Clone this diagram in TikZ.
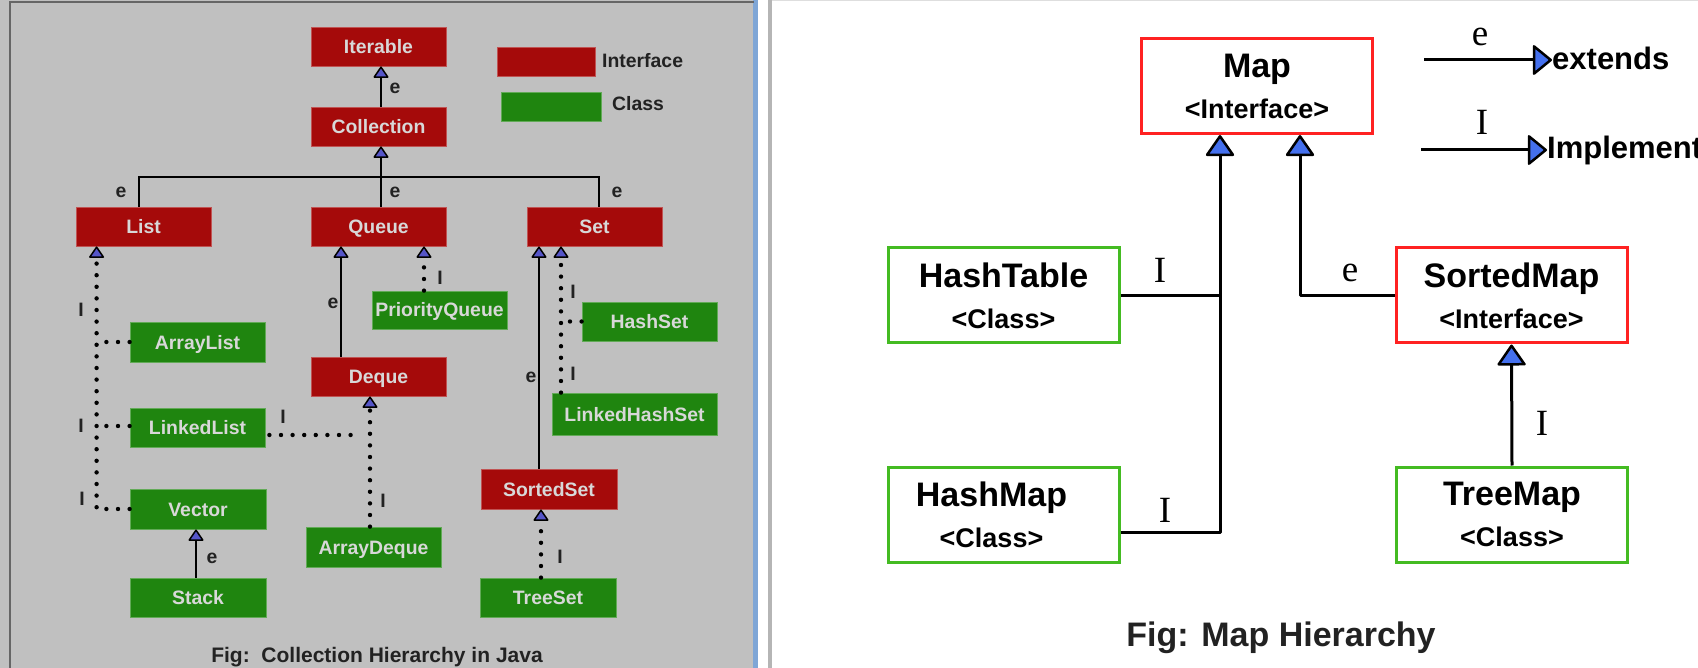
\documentclass[tikz,border=0pt]{standalone}
\usepackage{fontspec}
\setmainfont{Liberation Sans}
\newfontfamily\serifI{Liberation Serif}
\usetikzlibrary{arrows.meta}
\definecolor{panelgray}{HTML}{C0C0C0}
\definecolor{ifred}{HTML}{A50A0A}
\definecolor{clgreen}{HTML}{1F850F}
\definecolor{boxtext}{HTML}{D8D8D8}
\definecolor{arrowL}{HTML}{5555C8}
\definecolor{arrowR}{HTML}{4470EE}
\definecolor{mapred}{HTML}{FF2222}
\definecolor{mapgreen}{HTML}{44BB22}
\definecolor{captext}{HTML}{222222}
\definecolor{edgeblue}{HTML}{7FA6D6}
\definecolor{sepgray}{HTML}{B5B5B5}
\definecolor{framegray}{HTML}{666666}
\tikzset{
  ifbox/.style={fill=ifred, draw=ifred!70!white, line width=0.8pt, minimum width=135pt, minimum height=39pt, inner sep=0pt, text=boxtext, font=\fontsize{19.4}{23}\selectfont\bfseries, text height=14pt, text depth=0pt},
  clbox/.style={ifbox, fill=clgreen, draw=clgreen!70!white},
  lbl/.style={font=\fontsize{19.4}{23}\selectfont\bfseries, text=captext, inner sep=0pt},
  solidL/.style={line width=2pt},
  dotL/.style={line width=4.4pt, dash pattern=on 0pt off 11.6pt, line cap=round},
  tipL/.tip={Triangle[width=16pt, length=12pt, fill=arrowL, line width=1.5pt, round]},
  tipR/.tip={Triangle[width=30pt, length=22pt, fill=arrowR, line width=2.5pt, round]},
  tipRs/.tip={Triangle[width=32pt, length=20pt, fill=arrowR, line width=2.5pt, round]},
  mapbox/.style={draw=mapred, line width=3pt, fill=white, minimum width=231pt, minimum height=95pt, inner sep=0pt, align=center, font=\fontsize{34}{41}\selectfont\bfseries},
  mapcl/.style={mapbox, draw=mapgreen},
  rlbl/.style={font=\serifI\fontsize{37}{40}\selectfont, inner sep=0pt},
  solidR/.style={line width=3pt, line join=round},
  legtext/.style={font=\fontsize{31}{36}\selectfont\bfseries, inner sep=0pt, anchor=west},
}
\begin{document}
\begin{tikzpicture}[x=1pt, y=-1pt]
\useasboundingbox (0,0) rectangle (1698,668);
% backgrounds
\fill[panelgray] (0,0) rectangle (757,668);
\fill[white] (757,0) rectangle (1698,668);
\fill[edgeblue] (753,0) rectangle (758,668);
\fill[sepgray] (768,0) rectangle (772,668);
\fill[black!13] (772,0) rectangle (1698,1.5);
\draw[framegray, line width=2pt] (10,668) -- (10,2) -- (754,2);

% ---------------- left panel ----------------
\node[ifbox] (iterable) at (378.5,46.5) {Iterable};
\node[ifbox] (collection) at (378.5,126.5) {Collection};
\node[ifbox] (list) at (143.5,226.5) {List};
\node[ifbox] (queue) at (378.5,226.5) {Queue};
\node[ifbox] (set) at (594.5,226.5) {Set};
\node[ifbox, minimum width=98pt, minimum height=29pt] (legI) at (546,61.5) {};
\node[clbox, minimum width=100pt, minimum height=29pt] (legC) at (551,106.5) {};
\node[lbl, anchor=west] (legItext) at (602,61) {Interface};
\node[lbl, anchor=west] (legCtext) at (612,104) {Class};

\node[clbox, minimum height=40pt] (arraylist) at (197.5,342) {ArrayList};
\node[clbox] (linkedlist) at (197.5,427.5) {LinkedList};
\node[clbox, minimum width=136pt, minimum height=40pt] (vector) at (198,509) {Vector};
\node[clbox, minimum width=136pt] (stack) at (198,597.5) {Stack};
\node[clbox, minimum height=38pt] (pq) at (439.5,310) {PriorityQueue};
\node[ifbox] (deque) at (378.5,376.5) {Deque};
\node[clbox, minimum height=40pt] (arraydeque) at (373.5,547) {ArrayDeque};
\node[clbox] (hashset) at (649.5,321.5) {HashSet};
\node[clbox, minimum width=165pt, minimum height=42pt] (lhs) at (634.5,414) {LinkedHashSet};
\node[ifbox, minimum width=136pt, minimum height=40pt] (sortedset) at (549,489) {SortedSet};
\node[clbox, minimum width=136pt] (treeset) at (548,597.5) {TreeSet};

% connectors left
\draw[solidL,-tipL] ([xshift=2.5]collection.north) -- ([xshift=2.5]iterable.south);
\coordinate (bus) at (381,177);
\draw[solidL] ([xshift=-4.5]list.north) |- (bus) -| ([xshift=4.5]set.north);
\draw[solidL,-tipL] ([xshift=2.5]queue.north) -- ([xshift=2.5]collection.south);

\coordinate (listx) at ([xshift=21]list.south west);
\draw[dotL,-tipL] (vector.west) -| (listx);
\draw[dotL] (arraylist.west) -- (arraylist.west -| listx);
\draw[dotL] ([yshift=1.5]linkedlist.west) -- ([yshift=1.5]linkedlist.west -| listx);

\draw[solidL,-tipL] ([xshift=-37.5]deque.north) -- ([xshift=-37.5]queue.south);
\draw[dotL,-tipL] ([xshift=-15.5]pq.north) -- ([xshift=45.5]queue.south);
\draw[dotL,-tipL] ([xshift=-3.5]arraydeque.north) -- ([xshift=-8.5]deque.south);
\coordinate (dqx) at ([xshift=-18.5]deque.south);
\draw[dotL] ([xshift=4,yshift=-7.5]linkedlist.east) -- ([yshift=-7.5]linkedlist.east -| dqx);

\draw[solidL,-tipL] ([xshift=-10]sortedset.north) -- ([xshift=-55.5]set.south);
\coordinate (setdot) at ([xshift=-33.5]set.south);
\draw[dotL,-tipL] ([xshift=-73.5]lhs.north) -- (setdot);
\draw[dotL] (hashset.west) -- ([xshift=6]hashset.west -| setdot);
\draw[dotL,-tipL] ([xshift=-7]treeset.north) -- ([xshift=-8]sortedset.south);
\draw[solidL,-tipL] ([xshift=-2]stack.north) -- ([xshift=-2]vector.south);

% labels left
\node[lbl] (e1) at (395,88) {e};
\node[lbl] (e2) at (121,192) {e};
\node[lbl] (e3) at (395,192) {e};
\node[lbl] (e4) at (617,192) {e};
\node[lbl] (e5) at (333,303) {e};
\node[lbl] (e6) at (531,377) {e};
\node[lbl] (e7) at (212,558) {e};
\node[lbl] (i1) at (81,310) {I};
\node[lbl] (i2) at (81,426) {I};
\node[lbl] (i3) at (82,499) {I};
\node[lbl] (i4) at (440,278) {I};
\node[lbl] (i5) at (283,417) {I};
\node[lbl] (i6) at (383,501) {I};
\node[lbl] (i7) at (573,292) {I};
\node[lbl] (i8) at (573,374) {I};
\node[lbl] (i9) at (560,557) {I};
\node[font=\fontsize{21}{25}\selectfont\bfseries, text=captext, inner sep=0pt] (capL) at (377,657) {Fig:\ \ Collection Hierarchy in Java};

% ---------------- right panel ----------------
\node[mapbox] (map) at (1257,86) {Map\\{\fontsize{27}{41}\selectfont <Interface>}};
\node[mapcl] (hashtable) at (1003.5,295.5) {HashTable\\{\fontsize{27}{41}\selectfont <Class>}};
\node[mapcl] (hashmap) at (1003.5,514.5) {HashMap\hspace*{24pt}\\{\fontsize{27}{41}\selectfont <Class>\hspace*{24pt}}};
\node[mapbox] (sortedmap) at (1511.5,295.5) {SortedMap\\{\fontsize{27}{41}\selectfont <Interface>}};
\node[mapcl] (treemap) at (1512,514.5) {TreeMap\\{\fontsize{27}{41}\selectfont <Class>}};

\coordinate (mapL) at ([xshift=-37]map.south);
\coordinate (mapR) at ([xshift=43]map.south);
\draw[solidR,-tipR] ([yshift=-17.5]hashmap.east) -| (mapL);
\draw[solidR] (hashtable.east) -- (hashtable.east -| mapL);
\draw[solidR,-tipR] (sortedmap.west) -| (mapR);
\draw[solidR,-tipR] (treemap.north) -- (sortedmap.south);

\node[rlbl] (ri1) at (1160,270) {I};
\node[rlbl] (ri2) at (1165,510) {I};
\node[rlbl] (re1) at (1350,273) {e};
\node[rlbl] (ri3) at (1542,423) {I};

% legend right
\node[legtext] (extends) at (1552,58) {extends};
\node[legtext] (implement) at (1547,150) {Implement};
\coordinate (ext0) at (1424,60);
\coordinate (imp0) at (1421,150);
\draw[solidR,-tipRs] (ext0) -- (ext0 -| extends.west);
\draw[solidR,-tipRs] (imp0) -- (implement.west);
\node[rlbl] (lege) at (1480,37) {e};
\node[rlbl] (legi) at (1482,122) {I};

\node[font=\fontsize{34}{40}\selectfont\bfseries, text=captext, inner sep=0pt] (capR) at (1281,638) {Fig: Map Hierarchy};
\end{tikzpicture}
\end{document}
